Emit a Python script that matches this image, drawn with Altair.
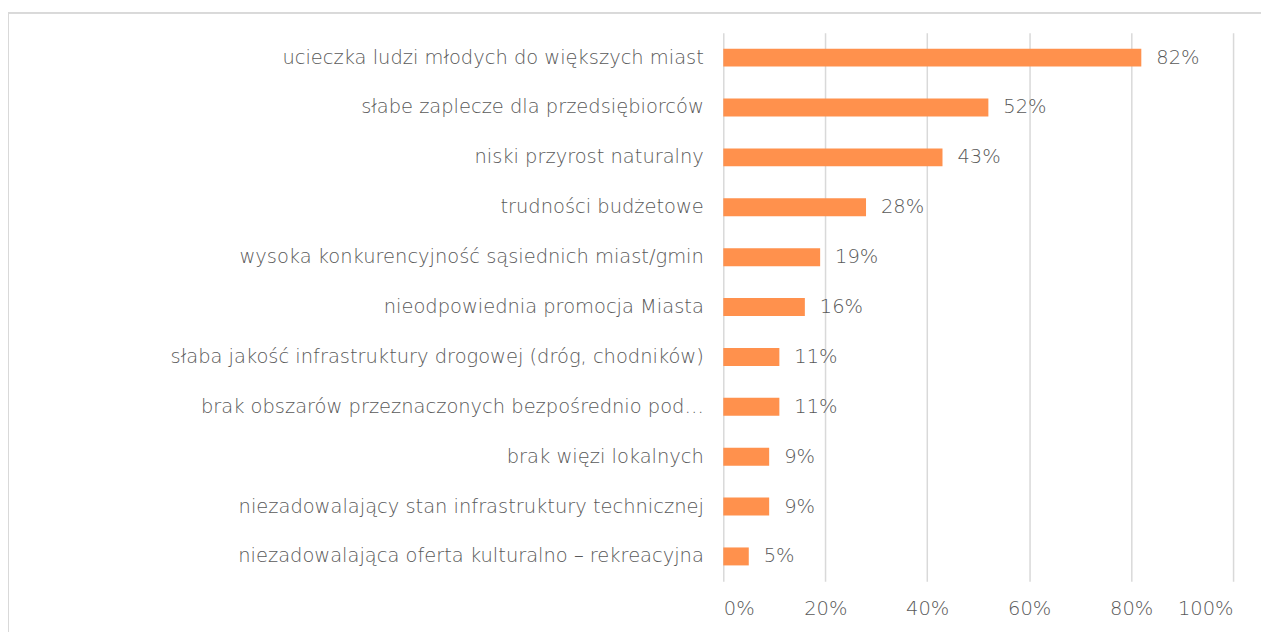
import altair as alt
import pandas as pd

categories = [
    "ucieczka ludzi młodych do większych miast",
    "słabe zaplecze dla przedsiębiorców",
    "niski przyrost naturalny",
    "trudności budżetowe",
    "wysoka konkurencyjność sąsiednich miast/gmin",
    "nieodpowiednia promocja Miasta",
    "słaba jakość infrastruktury drogowej (dróg, chodników)",
    "brak obszarów przeznaczonych bezpośrednio pod…",
    "brak więzi lokalnych",
    "niezadowalający stan infrastruktury technicznej",
    "niezadowalająca oferta kulturalno – rekreacyjna",
]
values = [0.82, 0.52, 0.43, 0.28, 0.19, 0.16, 0.11, 0.11, 0.09, 0.09, 0.05]
labels = ["82%", "52%", "43%", "28%", "19%", "16%", "11%", "11%", "9%", "9%", "5%"]

df = pd.DataFrame({"cat": categories, "val": values, "lab": labels})

FONT = "DejaVu Sans"
TXT = "#595959"
FS = 19.5

y_enc = alt.Y("cat:N", sort=categories, title=None,
              scale=alt.Scale(paddingInner=0.64, paddingOuter=0.32),
              axis=alt.Axis(domain=False, ticks=False, labelPadding=20,
                            labelFontSize=FS, labelColor=TXT, labelFont=FONT,
                            labelFontWeight=200, labelLimit=700))

x_enc = alt.X("val:Q", title=None,
              scale=alt.Scale(domain=[0, 1], nice=False),
              axis=alt.Axis(format=".0%", values=[0, 0.2, 0.4, 0.6, 0.8, 1.0],
                            domain=False, ticks=False, labelPadding=18,
                            labelFontSize=FS, labelColor=TXT, labelFont=FONT,
                            labelFontWeight=200,
                            grid=True, gridColor="#d9d9d9", gridWidth=1.5))

border = alt.Chart(df).mark_rect(fill=None, stroke="#d9d9d9", strokeWidth=1.5).encode(
    x=alt.value(-717), x2=alt.value(600), y=alt.value(-20), y2=alt.value(700)
)

bars = alt.Chart(df).mark_bar(color="#FF914D").encode(y=y_enc, x=x_enc)

text = alt.Chart(df).mark_text(align="left", baseline="middle", dx=15,
                               fontSize=FS, color=TXT, font=FONT, fontWeight=200).encode(
    y=alt.Y("cat:N", sort=categories), x="val:Q", text="lab:N"
)

chart = alt.layer(border, bars, text).properties(
    width=511, height=550,
    padding={"left": 717, "top": 24, "right": 28, "bottom": 50},
    autosize=alt.AutoSizeParams(type="none"),
).configure_view(stroke=None)

chart.save("out.html", embed_options={"renderer": "svg", "actions": False})
